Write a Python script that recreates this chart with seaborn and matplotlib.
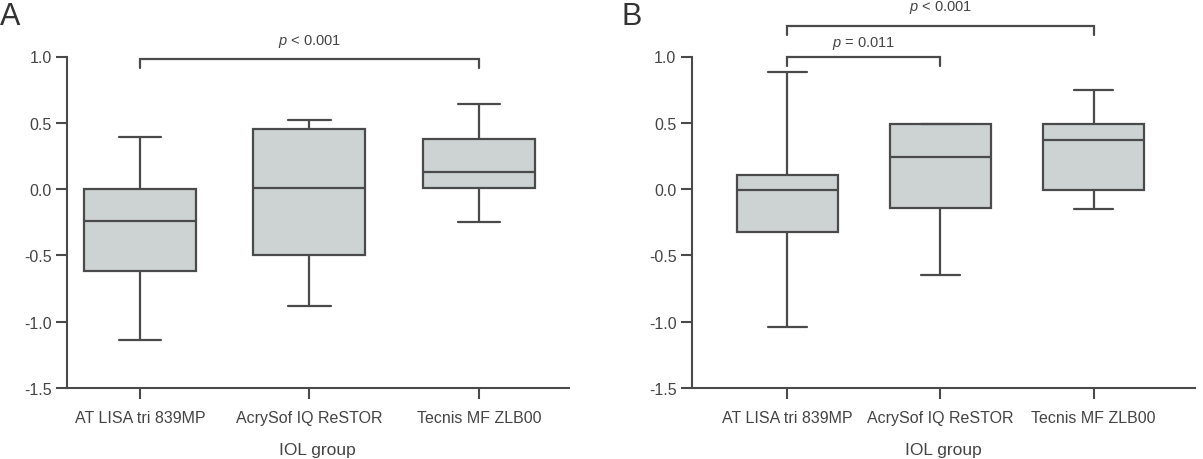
import numpy as np
import pandas as pd
import matplotlib
matplotlib.use("Agg")
import matplotlib.pyplot as plt
import seaborn as sns

# IOL groups
groups = ["AT LISA tri 839MP", "AcrySof IQ ReSTOR", "Tecnis MF ZLB00"]

# five-number summaries: [min, q1, median, q3, max]
panel_a = {
    "AT LISA tri 839MP": [-1.14, -0.62, -0.24, 0.00, 0.39],
    "AcrySof IQ ReSTOR": [-0.88, -0.50, 0.01, 0.45, 0.52],
    "Tecnis MF ZLB00": [-0.25, 0.01, 0.13, 0.38, 0.64],
}
panel_b = {
    "AT LISA tri 839MP": [-1.04, -0.32, -0.01, 0.11, 0.88],
    "AcrySof IQ ReSTOR": [-0.65, -0.14, 0.24, 0.49, 0.49],
    "Tecnis MF ZLB00": [-0.15, -0.01, 0.37, 0.49, 0.75],
}

# significance brackets: (group from, group to, label)
brackets_a = [(0, 2, "< 0.001")]
brackets_b = [(0, 1, "= 0.011"), (0, 2, "< 0.001")]

yticks = [-1.5, -1.0, -0.5, 0.0, 0.5, 1.0]

sns.set_style("ticks")
plt.rcParams["font.family"] = ["Liberation Sans Narrow", "Liberation Sans", "DejaVu Sans"]
plt.rcParams["mathtext.fontset"] = "custom"
plt.rcParams["mathtext.it"] = "Liberation Sans:italic"
plt.rcParams["mathtext.rm"] = "Liberation Sans"

dark = "#4a4a4a"
box_fill = "#cdd3d3"

fig = plt.figure(figsize=(12.03, 4.60), dpi=100)
ax_a = fig.add_axes([0.0557, 0.154, 0.417, 0.721])
ax_b = fig.add_axes([0.575, 0.154, 0.418, 0.721])


def to_long(summary):
    rows = []
    for g in groups:
        for v in summary[g]:
            rows.append({"group": g, "value": v})
    return pd.DataFrame(rows)


def draw(ax, summary, brackets, xlim, levels, gaps):
    df = to_long(summary)
    sns.boxplot(data=df, x="group", y="value", order=groups, ax=ax,
                whis=(0, 100), width=0.66, color=box_fill, saturation=1,
                linecolor=dark, linewidth=1.6, capwidths=0.25,
                showfliers=False)
    ax.set_ylim(-1.5, 1.0)
    ax.set_xlim(*xlim)
    ax.set_yticks(yticks)
    ax.set_yticklabels([f"{t:.1f}" for t in yticks])
    ax.set_xlabel("IOL group", fontsize=12.5, color="#444444", labelpad=12)
    ax.set_ylabel("")
    sns.despine(ax=ax)
    for s in ["left", "bottom"]:
        ax.spines[s].set_color(dark)
        ax.spines[s].set_linewidth(1.5)
    ax.tick_params(axis="both", length=8, width=1.5, color=dark,
                   labelcolor="#444444", labelsize=11.5)
    ax.tick_params(axis="x", pad=8)
    ax.tick_params(axis="y", pad=3)
    for (i, j, lab), y, gap in zip(brackets, levels, gaps):
        ax.plot([i, i, j, j], [y - 0.07, y, y, y - 0.07], color=dark,
                lw=1.6, clip_on=False, solid_joinstyle="miter")
        ax.text((i + j) / 2, y + gap, r"$\it{p}$ " + lab, ha="center",
                va="bottom", fontsize=10.5, color="#444444")


draw(ax_a, panel_a, brackets_a, (-0.43, 2.53), [0.98], [0.08])
draw(ax_b, panel_b, brackets_b, (-0.625, 2.66), [1.0, 1.23], [0.04, 0.08])

fig.text(0.0, 0.995, "A", fontsize=22, color="#333333", ha="left", va="top",
         family=["Liberation Sans", "DejaVu Sans"])
fig.text(0.517, 0.995, "B", fontsize=22, color="#333333", ha="left", va="top",
         family=["Liberation Sans", "DejaVu Sans"])

fig.savefig("out.png", dpi=100)
